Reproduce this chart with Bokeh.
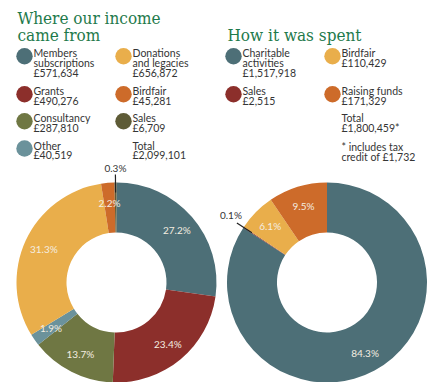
import math
from bokeh.plotting import figure
from bokeh.models import Range1d
from bokeh.core.properties import value
from bokeh.embed import file_html
from bokeh.resources import INLINE

# ---------------- data ----------------
income_names = ["Members\nsubscriptions", "Grants", "Consultancy", "Other",
                "Donations\nand legacies", "Birdfair", "Sales"]
income_values = [571634, 490276, 287810, 40519, 656872, 45281, 6709]
income_pct = ["27.2%", "23.4%", "13.7%", "1.9%", "31.3%", "2.2%", "0.3%"]
income_total = 2099101

spent_names = ["Charitable\nactivities", "Sales", "Birdfair", "Raising funds"]
spent_values = [1517918, 2515, 110429, 171329]
spent_pct = ["84.3%", "0.1%", "6.1%", "9.5%"]
spent_total = 1800459
spent_note = "* includes tax\ncredit of £1,732"

# ---------------- style ----------------
C_TEAL = "#4d6f77"; C_RED = "#8c2f2b"; C_OLIVE = "#6f7743"; C_GREY = "#6b929b"
C_YEL = "#e9ae4b"; C_ORA = "#cd6b2a"; C_DARK = "#5e5b36"
income_colors = [C_TEAL, C_RED, C_OLIVE, C_GREY, C_YEL, C_ORA, C_DARK]
spent_colors = [C_TEAL, C_RED, C_YEL, C_ORA]
TITLE_C = "#1e7a4b"
TXT_C = "#353535"
LBL_C = "#f4ede0"
FONT = "Lato"
TFONT = "DejaVu Serif Condensed"

W, H = 447, 382
p = figure(width=W, height=H, output_backend="svg", toolbar_location=None,
           x_range=Range1d(0, W), y_range=Range1d(-H, 0), min_border=0)
p.axis.visible = False
p.grid.visible = False
p.outline_line_color = None
p.background_fill_color = "white"


def X(px):
    return px


def Y(py):
    return -py


def txt(x, y, s, size="10.5px", color=TXT_C, font=FONT, align="left", baseline="middle", style="normal"):
    p.text(x=[X(x)], y=[Y(y)], text=[s], text_font=value(font), text_font_size=size,
           text_color=color, text_align=align, text_baseline=baseline, text_font_style=style)


def lines(x, y0, s, step=9.7):
    for i, ln in enumerate(s.split("\n")):
        txt(x, y0 + i * step, ln)


# titles
txt(17, 17, "Where our income", size="17px", color=TITLE_C, font=TFONT)
txt(17, 34, "came from", size="17px", color=TITLE_C, font=TFONT)
txt(227, 34.5, "How it was spent", size="17px", color=TITLE_C, font=TFONT)

fmt = lambda v: "£{:,}".format(v)


def legend(entries, col_x, rows):
    for (col, row, name, val, color) in entries:
        cx, tx = col_x[col]
        y0 = rows[row]
        if color is not None:
            p.circle(x=[X(cx)], y=[Y(y0 + 3)], radius=8.2, fill_color=color, line_color=None)
        lines(tx, y0, name + ("\n" + val if val else ""))


# income legend
inc_pos = [(0, 0), (0, 1), (0, 2), (0, 3), (1, 0), (1, 1), (1, 2)]
entries = [(c, r, n, fmt(v), col) for (c, r), n, v, col in
           zip(inc_pos, income_names, income_values, income_colors)]
entries.append((1, 3, "Total", fmt(income_total), None))
legend(entries, {0: (24, 33), 1: (123, 132)}, [52.7, 90.7, 117.7, 145])

# spent legend
sp_pos = [(0, 0), (0, 1), (1, 0), (1, 1)]
entries = [(c, r, n, fmt(v), col) for (c, r), n, v, col in
           zip(sp_pos, spent_names, spent_values, spent_colors)]
entries.append((1, 2, "Total", fmt(spent_total) + "*", None))
entries.append((1, 3, spent_note, "", None))
legend(entries, {0: (233, 242), 1: (332, 341)}, [52.7, 90.7, 117.7, 146.7])


# donuts
R_OUT, R_IN, R_LBL = 100, 50, 80


def donut(cx, cy, vals, colors, pcts, outside, lead_dir):
    tot = float(sum(vals))
    cum = 0.0
    starts, ends = [], []
    for v in vals:
        starts.append(math.pi / 2 - cum / tot * 2 * math.pi)
        cum += v
        ends.append(math.pi / 2 - cum / tot * 2 * math.pi)
    p.annular_wedge(x=X(cx), y=Y(cy), inner_radius=R_IN, outer_radius=R_OUT,
                    start_angle=starts, end_angle=ends, direction="clock",
                    fill_color=colors, line_color=None)
    for i, lab in enumerate(pcts):
        mid = (starts[i] + ends[i]) / 2
        dx, dy = math.cos(mid), math.sin(mid)
        if i == outside:
            r1, r2 = R_OUT - 10, R_OUT + 8
            p.segment(x0=X(cx) + r1 * dx, y0=Y(cy) + r1 * dy,
                      x1=X(cx) + r2 * dx, y1=Y(cy) + r2 * dy,
                      line_color="#222222", line_width=1.2)
            ex, ey = X(cx) + r2 * dx, Y(cy) + r2 * dy
            if lead_dir == "up":
                p.text(x=[ex], y=[ey + 1], text=[lab], text_font=value(FONT), text_font_size="10px",
                       text_color=TXT_C, text_align="center", text_baseline="bottom")
            else:
                p.text(x=[ex + 5], y=[ey + 2], text=[lab], text_font=value(FONT), text_font_size="10px",
                       text_color=TXT_C, text_align="right", text_baseline="bottom")
        else:
            p.text(x=[X(cx) + R_LBL * dx], y=[Y(cy) + R_LBL * dy], text=[lab],
                   text_font=value(FONT), text_font_size="10px", text_color=LBL_C,
                   text_align="center", text_baseline="middle")


donut(116, 282, income_values, income_colors, income_pct, 6, "up")
donut(326.5, 282, spent_values, spent_colors, spent_pct, 1, "left")

open("out.html", "w").write(file_html(p, INLINE))
